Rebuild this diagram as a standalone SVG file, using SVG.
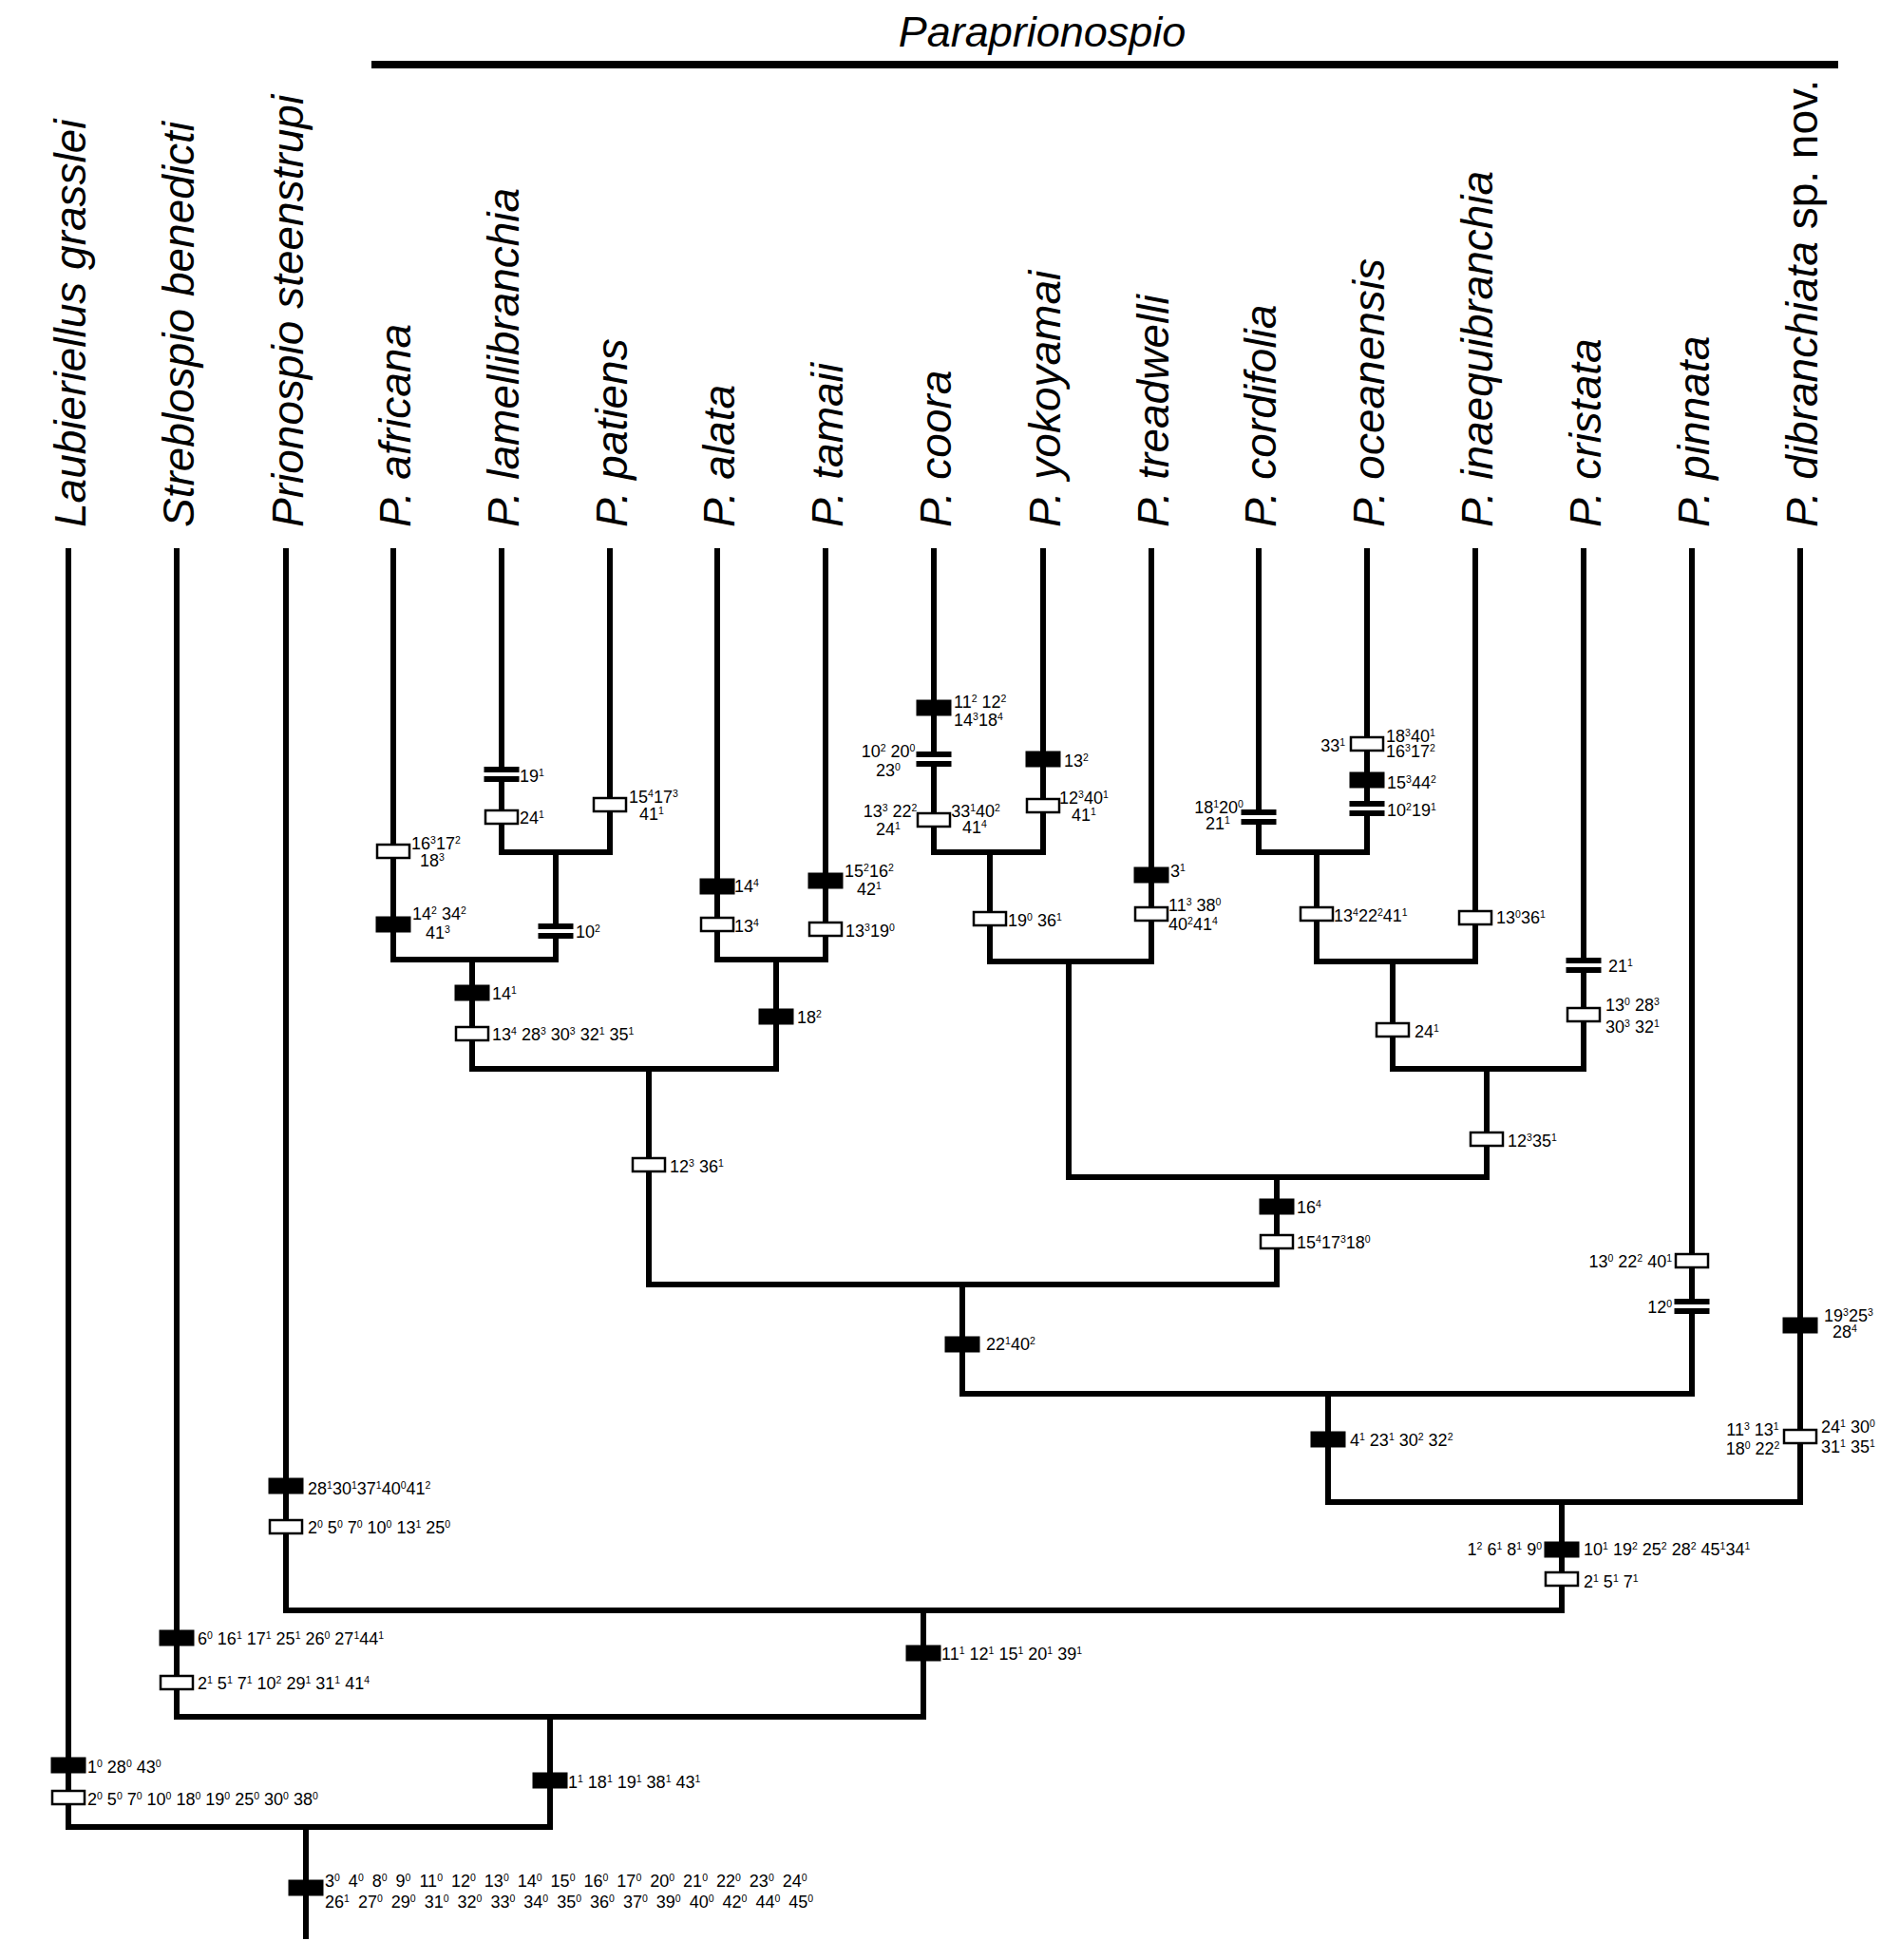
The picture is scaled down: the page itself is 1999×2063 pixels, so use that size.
<svg xmlns="http://www.w3.org/2000/svg" width="1999" height="2063" viewBox="0 0 1999 2063">
<style>
.ln{fill:none;stroke:#000;stroke-width:6;stroke-linecap:square;stroke-linejoin:miter}
.t{font-family:"Liberation Sans",Arial,Helvetica,sans-serif;font-size:18px;fill:#000}
.u{font-size:10.5px;baseline-shift:6px}
.sp{font-family:"Liberation Sans",Arial,Helvetica,sans-serif;font-size:46px;font-style:italic;fill:#000}
.n{font-style:normal}
.m{text-anchor:middle}
.e{text-anchor:end}
.w{word-spacing:4px}
</style>
<defs>
<rect id="S" x="-18.5" y="-8.5" width="37" height="17" fill="#000"/>
<rect id="H" x="-17" y="-7" width="34" height="14" fill="#fff" stroke="#000" stroke-width="2.5"/>
<g id="R"><rect x="-18.5" y="-8" width="37" height="16" fill="#fff"/><rect x="-18.5" y="-8" width="37" height="6" fill="#000"/><rect x="-18.5" y="2" width="37" height="6" fill="#000"/></g>
</defs>
<rect width="1999" height="2063" fill="#fff"/>

<g id="clade-paraprionospio">
<text x="1097" y="49" class="sp m" style="font-size:45px">Paraprionospio</text>
<rect x="391" y="64" width="1544" height="8" fill="#000"/>
</g>

<g id="taxa">
<g id="taxon-laubieriellus"><text class="sp" transform="translate(90,555) rotate(-90)">Laubieriellus grasslei</text></g>
<g id="taxon-streblospio"><text class="sp" transform="translate(204,555) rotate(-90)">Streblospio benedicti</text></g>
<g id="taxon-prionospio"><text class="sp" transform="translate(319,555) rotate(-90)">Prionospio steenstrupi</text></g>
<g id="taxon-africana"><text class="sp" transform="translate(432,555) rotate(-90)">P. africana</text></g>
<g id="taxon-lamellibranchia"><text class="sp" transform="translate(546,555) rotate(-90)">P. lamellibranchia</text></g>
<g id="taxon-patiens"><text class="sp" transform="translate(660,555) rotate(-90)">P. patiens</text></g>
<g id="taxon-alata"><text class="sp" transform="translate(773,555) rotate(-90)">P. alata</text></g>
<g id="taxon-tamaii"><text class="sp" transform="translate(887,555) rotate(-90)">P. tamaii</text></g>
<g id="taxon-coora"><text class="sp" transform="translate(1001,555) rotate(-90)">P. coora</text></g>
<g id="taxon-yokoyamai"><text class="sp" transform="translate(1116,555) rotate(-90)">P. yokoyamai</text></g>
<g id="taxon-treadwelli"><text class="sp" transform="translate(1230,555) rotate(-90)">P. treadwelli</text></g>
<g id="taxon-cordifolia"><text class="sp" transform="translate(1343,555) rotate(-90)">P. cordifolia</text></g>
<g id="taxon-oceanensis"><text class="sp" transform="translate(1457,555) rotate(-90)">P. oceanensis</text></g>
<g id="taxon-inaequibranchia"><text class="sp" transform="translate(1571,555) rotate(-90)">P. inaequibranchia</text></g>
<g id="taxon-cristata"><text class="sp" transform="translate(1685,555) rotate(-90)">P. cristata</text></g>
<g id="taxon-pinnata"><text class="sp" transform="translate(1799,555) rotate(-90)">P. pinnata</text></g>
<g id="taxon-dibranchiata"><text class="sp" transform="translate(1913,555) rotate(-90)">P. dibranchiata <tspan class="n">sp. nov.</tspan></text></g>
</g>

<g id="connectors">
<path class="ln" d="M72 580V1923M186 580V1807M301 580V1695M414 580V1010M528 580V897M642 580V897M755 580V1010M869 580V1010M983 580V897M1098 580V897M1212 580V1012M1325 580V897M1439 580V897M1553 580V1012M1667 580V1125M1781 580V1467M1895 580V1581"/>
<path class="ln" d="M528 897H642M585 897V1010M414 1010H585M497 1010V1125M755 1010H869M817 1010V1125M497 1125H817M683 1125V1352M983 897H1098M1042 897V1012M1042 1012H1212M1125 1012V1239M1325 897H1439M1386 897V1012M1386 1012H1553M1466 1012V1125M1466 1125H1667M1565 1125V1239M1125 1239H1565M1344 1239V1352M683 1352H1344M1013 1352V1467M1013 1467H1781M1398 1467V1581M1398 1581H1895M1644 1581V1695M301 1695H1644M972 1695V1807M186 1807H972M579 1807V1923M72 1923H579M322 1923V2038"/>
</g>

<g id="chars-africana">
<use href="#H" x="414" y="896"/><use href="#S" x="414" y="973"/>
<text class="t" x="433" y="894">16<tspan class="u">3</tspan>17<tspan class="u">2</tspan></text>
<text class="t" x="442" y="912">18<tspan class="u">3</tspan></text>
<text class="t" x="434" y="968">14<tspan class="u">2</tspan> 34<tspan class="u">2</tspan></text>
<text class="t" x="448" y="988">41<tspan class="u">3</tspan></text>
</g>
<g id="chars-lamellibranchia">
<use href="#R" x="528" y="815"/><use href="#H" x="528" y="860"/>
<text class="t" x="547" y="823">19<tspan class="u">1</tspan></text>
<text class="t" x="547" y="867">24<tspan class="u">1</tspan></text>
</g>
<g id="chars-patiens">
<use href="#H" x="642" y="847"/>
<text class="t" x="662" y="845">15<tspan class="u">4</tspan>17<tspan class="u">3</tspan></text>
<text class="t" x="673" y="863">41<tspan class="u">1</tspan></text>
</g>
<g id="chars-alata">
<use href="#S" x="755" y="933"/><use href="#H" x="755" y="973"/>
<text class="t" x="773" y="939">14<tspan class="u">4</tspan></text>
<text class="t" x="773" y="981">13<tspan class="u">4</tspan></text>
</g>
<g id="chars-tamaii">
<use href="#S" x="869" y="927"/><use href="#H" x="869" y="978"/>
<text class="t" x="889" y="923">15<tspan class="u">2</tspan>16<tspan class="u">2</tspan></text>
<text class="t" x="902" y="942">42<tspan class="u">1</tspan></text>
<text class="t" x="890" y="986">13<tspan class="u">3</tspan>19<tspan class="u">0</tspan></text>
</g>
<g id="chars-coora">
<use href="#S" x="983" y="745"/><use href="#R" x="983" y="799"/><use href="#H" x="983" y="863"/>
<text class="t" x="1004" y="745">11<tspan class="u">2</tspan> 12<tspan class="u">2</tspan></text>
<text class="t" x="1004" y="764">14<tspan class="u">3</tspan>18<tspan class="u">4</tspan></text>
<text class="t m" x="935" y="797">10<tspan class="u">2</tspan> 20<tspan class="u">0</tspan></text>
<text class="t m" x="935" y="817">23<tspan class="u">0</tspan></text>
<text class="t m" x="937" y="860">13<tspan class="u">3</tspan> 22<tspan class="u">2</tspan></text>
<text class="t m" x="935" y="879">24<tspan class="u">1</tspan></text>
<text class="t m" x="1027" y="860">33<tspan class="u">1</tspan>40<tspan class="u">2</tspan></text>
<text class="t m" x="1026" y="877">41<tspan class="u">4</tspan></text>
</g>
<g id="chars-yokoyamai">
<use href="#S" x="1098" y="799"/><use href="#H" x="1098" y="848"/>
<text class="t" x="1120" y="807">13<tspan class="u">2</tspan></text>
<text class="t" x="1115" y="846">12<tspan class="u">3</tspan>40<tspan class="u">1</tspan></text>
<text class="t" x="1128" y="864">41<tspan class="u">1</tspan></text>
</g>
<g id="chars-treadwelli">
<use href="#S" x="1212" y="921"/><use href="#H" x="1212" y="962"/>
<text class="t" x="1232" y="923">3<tspan class="u">1</tspan></text>
<text class="t" x="1230" y="959">11<tspan class="u">3</tspan> 38<tspan class="u">0</tspan></text>
<text class="t" x="1230" y="979">40<tspan class="u">2</tspan>41<tspan class="u">4</tspan></text>
</g>
<g id="chars-cordifolia">
<use href="#R" x="1325" y="860"/>
<text class="t m" x="1283" y="856">18<tspan class="u">1</tspan>20<tspan class="u">0</tspan></text>
<text class="t m" x="1282" y="873">21<tspan class="u">1</tspan></text>
</g>
<g id="chars-oceanensis">
<use href="#H" x="1439" y="783"/><use href="#S" x="1439" y="821"/><use href="#R" x="1439" y="851"/>
<text class="t e" x="1416" y="791">33<tspan class="u">1</tspan></text>
<text class="t" x="1459" y="781">18<tspan class="u">3</tspan>40<tspan class="u">1</tspan></text>
<text class="t" x="1459" y="797">16<tspan class="u">3</tspan>17<tspan class="u">2</tspan></text>
<text class="t" x="1460" y="830">15<tspan class="u">3</tspan>44<tspan class="u">2</tspan></text>
<text class="t" x="1460" y="859">10<tspan class="u">2</tspan>19<tspan class="u">1</tspan></text>
</g>
<g id="chars-inaequibranchia">
<use href="#H" x="1553" y="966"/>
<text class="t" x="1575" y="972">13<tspan class="u">0</tspan>36<tspan class="u">1</tspan></text>
</g>
<g id="chars-cristata">
<use href="#R" x="1667" y="1016"/><use href="#H" x="1667" y="1068"/>
<text class="t" x="1693" y="1023">21<tspan class="u">1</tspan></text>
<text class="t" x="1690" y="1064">13<tspan class="u">0</tspan> 28<tspan class="u">3</tspan></text>
<text class="t" x="1690" y="1087">30<tspan class="u">3</tspan> 32<tspan class="u">1</tspan></text>
</g>
<g id="chars-pinnata">
<use href="#H" x="1781" y="1327"/><use href="#R" x="1781" y="1375"/>
<text class="t e" x="1760" y="1334">13<tspan class="u">0</tspan> 22<tspan class="u">2</tspan> 40<tspan class="u">1</tspan></text>
<text class="t e" x="1760" y="1382">12<tspan class="u">0</tspan></text>
</g>
<g id="chars-dibranchiata">
<use href="#S" x="1895" y="1395"/><use href="#H" x="1895" y="1512"/>
<text class="t" x="1920" y="1391">19<tspan class="u">3</tspan>25<tspan class="u">3</tspan></text>
<text class="t" x="1929" y="1408">28<tspan class="u">4</tspan></text>
<text class="t m" x="1845" y="1511">11<tspan class="u">3</tspan> 13<tspan class="u">1</tspan></text>
<text class="t m" x="1845" y="1531">18<tspan class="u">0</tspan> 22<tspan class="u">2</tspan></text>
<text class="t" x="1917" y="1508">24<tspan class="u">1</tspan> 30<tspan class="u">0</tspan></text>
<text class="t" x="1917" y="1529">31<tspan class="u">1</tspan> 35<tspan class="u">1</tspan></text>
</g>
<g id="chars-prionospio">
<use href="#S" x="301" y="1564"/><use href="#H" x="301" y="1607"/>
<text class="t" x="324" y="1573">28<tspan class="u">1</tspan>30<tspan class="u">1</tspan>37<tspan class="u">1</tspan>40<tspan class="u">0</tspan>41<tspan class="u">2</tspan></text>
<text class="t" x="324" y="1614">2<tspan class="u">0</tspan> 5<tspan class="u">0</tspan> 7<tspan class="u">0</tspan> 10<tspan class="u">0</tspan> 13<tspan class="u">1</tspan> 25<tspan class="u">0</tspan></text>
</g>
<g id="chars-streblospio">
<use href="#S" x="186" y="1724"/><use href="#H" x="186" y="1771"/>
<text class="t" x="208" y="1731">6<tspan class="u">0</tspan> 16<tspan class="u">1</tspan> 17<tspan class="u">1</tspan> 25<tspan class="u">1</tspan> 26<tspan class="u">0</tspan> 27<tspan class="u">1</tspan>44<tspan class="u">1</tspan></text>
<text class="t" x="208" y="1778">2<tspan class="u">1</tspan> 5<tspan class="u">1</tspan> 7<tspan class="u">1</tspan> 10<tspan class="u">2</tspan> 29<tspan class="u">1</tspan> 31<tspan class="u">1</tspan> 41<tspan class="u">4</tspan></text>
</g>
<g id="chars-laubieriellus">
<use href="#S" x="72" y="1858"/><use href="#H" x="72" y="1892"/>
<text class="t" x="92" y="1866">1<tspan class="u">0</tspan> 28<tspan class="u">0</tspan> 43<tspan class="u">0</tspan></text>
<text class="t" x="92" y="1900">2<tspan class="u">0</tspan> 5<tspan class="u">0</tspan> 7<tspan class="u">0</tspan> 10<tspan class="u">0</tspan> 18<tspan class="u">0</tspan> 19<tspan class="u">0</tspan> 25<tspan class="u">0</tspan> 30<tspan class="u">0</tspan> 38<tspan class="u">0</tspan></text>
</g>

<g id="node-lam-pat">
<use href="#R" x="585" y="980"/>
<text class="t" x="606" y="987">10<tspan class="u">2</tspan></text>
</g>
<g id="node-africana-clade">
<use href="#S" x="497" y="1045"/><use href="#H" x="497" y="1088"/>
<text class="t" x="518" y="1052">14<tspan class="u">1</tspan></text>
<text class="t" x="518" y="1095">13<tspan class="u">4</tspan> 28<tspan class="u">3</tspan> 30<tspan class="u">3</tspan> 32<tspan class="u">1</tspan> 35<tspan class="u">1</tspan></text>
</g>
<g id="node-alata-clade">
<use href="#S" x="817" y="1070"/>
<text class="t" x="839" y="1077">18<tspan class="u">2</tspan></text>
</g>
<g id="node-africana-tamaii">
<use href="#H" x="683" y="1226"/>
<text class="t" x="705" y="1234">12<tspan class="u">3</tspan> 36<tspan class="u">1</tspan></text>
</g>
<g id="node-coora-yokoyamai">
<use href="#H" x="1042" y="967"/>
<text class="t" x="1061" y="975">19<tspan class="u">0</tspan> 36<tspan class="u">1</tspan></text>
</g>
<g id="node-cordifolia-oceanensis">
<use href="#H" x="1386" y="962"/>
<text class="t" x="1404" y="970">13<tspan class="u">4</tspan>22<tspan class="u">2</tspan>41<tspan class="u">1</tspan></text>
</g>
<g id="node-cordifolia-inaequibranchia">
<use href="#H" x="1466" y="1084"/>
<text class="t" x="1489" y="1092">24<tspan class="u">1</tspan></text>
</g>
<g id="node-cordifolia-cristata">
<use href="#H" x="1565" y="1199"/>
<text class="t" x="1587" y="1207">12<tspan class="u">3</tspan>35<tspan class="u">1</tspan></text>
</g>
<g id="node-coora-cristata">
<use href="#S" x="1344" y="1270"/><use href="#H" x="1344" y="1307"/>
<text class="t" x="1365" y="1277">16<tspan class="u">4</tspan></text>
<text class="t" x="1365" y="1314">15<tspan class="u">4</tspan>17<tspan class="u">3</tspan>18<tspan class="u">0</tspan></text>
</g>
<g id="node-africana-cristata">
<use href="#S" x="1013" y="1415"/>
<text class="t" x="1038" y="1421">22<tspan class="u">1</tspan>40<tspan class="u">2</tspan></text>
</g>
<g id="node-africana-pinnata">
<use href="#S" x="1398" y="1515"/>
<text class="t" x="1421" y="1522">4<tspan class="u">1</tspan> 23<tspan class="u">1</tspan> 30<tspan class="u">2</tspan> 32<tspan class="u">2</tspan></text>
</g>
<g id="node-paraprionospio">
<use href="#S" x="1644" y="1631"/><use href="#H" x="1644" y="1662"/>
<text class="t e" x="1623" y="1637">1<tspan class="u">2</tspan> 6<tspan class="u">1</tspan> 8<tspan class="u">1</tspan> 9<tspan class="u">0</tspan></text>
<text class="t" x="1667" y="1637">10<tspan class="u">1</tspan> 19<tspan class="u">2</tspan> 25<tspan class="u">2</tspan> 28<tspan class="u">2</tspan> 45<tspan class="u">1</tspan>34<tspan class="u">1</tspan></text>
<text class="t" x="1667" y="1671">2<tspan class="u">1</tspan> 5<tspan class="u">1</tspan> 7<tspan class="u">1</tspan></text>
</g>
<g id="node-prionospio-paraprionospio">
<use href="#S" x="972" y="1740"/>
<text class="t" x="991" y="1747">11<tspan class="u">1</tspan> 12<tspan class="u">1</tspan> 15<tspan class="u">1</tspan> 20<tspan class="u">1</tspan> 39<tspan class="u">1</tspan></text>
</g>
<g id="node-streblospio-paraprionospio">
<use href="#S" x="579" y="1874"/>
<text class="t" x="598" y="1882">1<tspan class="u">1</tspan> 18<tspan class="u">1</tspan> 19<tspan class="u">1</tspan> 38<tspan class="u">1</tspan> 43<tspan class="u">1</tspan></text>
</g>
<g id="node-root">
<use href="#S" x="322" y="1987"/>
<text class="t w" x="342" y="1986">3<tspan class="u">0</tspan> 4<tspan class="u">0</tspan> 8<tspan class="u">0</tspan> 9<tspan class="u">0</tspan> 11<tspan class="u">0</tspan> 12<tspan class="u">0</tspan> 13<tspan class="u">0</tspan> 14<tspan class="u">0</tspan> 15<tspan class="u">0</tspan> 16<tspan class="u">0</tspan> 17<tspan class="u">0</tspan> 20<tspan class="u">0</tspan> 21<tspan class="u">0</tspan> 22<tspan class="u">0</tspan> 23<tspan class="u">0</tspan> 24<tspan class="u">0</tspan></text>
<text class="t w" x="342" y="2008">26<tspan class="u">1</tspan> 27<tspan class="u">0</tspan> 29<tspan class="u">0</tspan> 31<tspan class="u">0</tspan> 32<tspan class="u">0</tspan> 33<tspan class="u">0</tspan> 34<tspan class="u">0</tspan> 35<tspan class="u">0</tspan> 36<tspan class="u">0</tspan> 37<tspan class="u">0</tspan> 39<tspan class="u">0</tspan> 40<tspan class="u">0</tspan> 42<tspan class="u">0</tspan> 44<tspan class="u">0</tspan> 45<tspan class="u">0</tspan></text>
</g>
</svg>
